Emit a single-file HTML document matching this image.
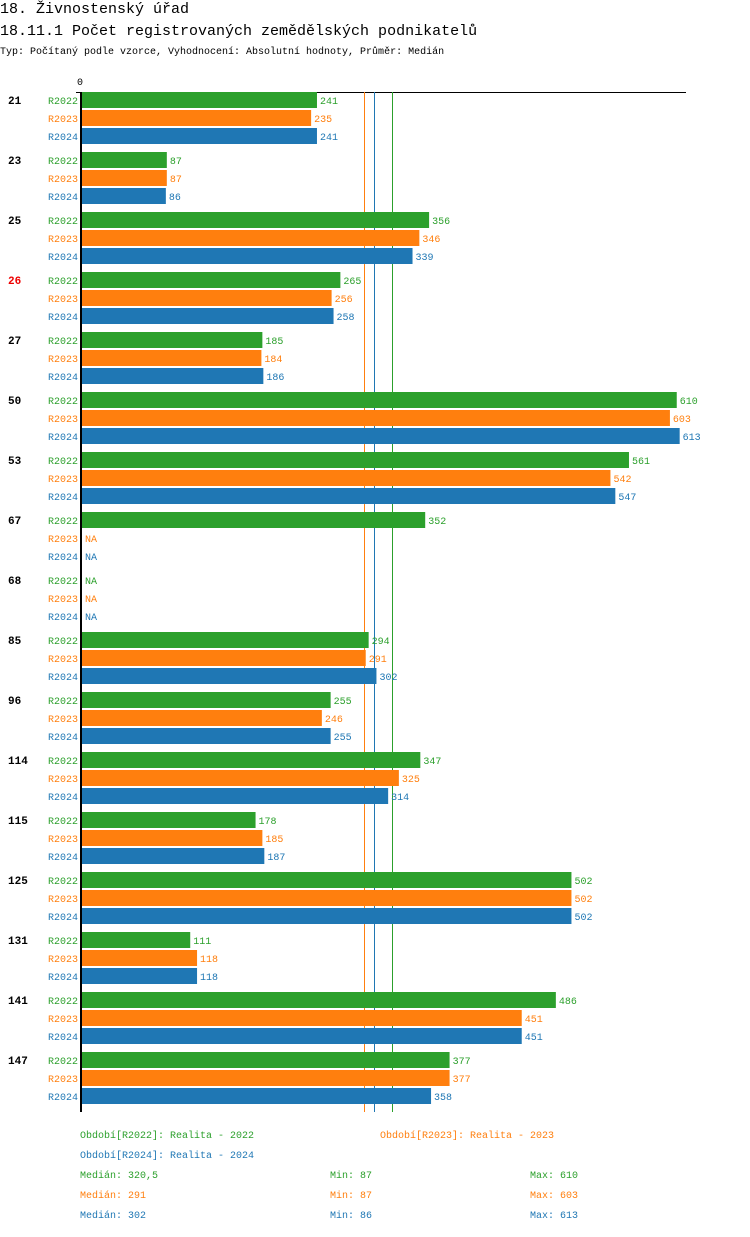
<!DOCTYPE html>
<html><head><meta charset="utf-8"><style>
body{margin:0;background:#fff;width:750px;height:1232px;overflow:hidden;font-family:"Liberation Mono","DejaVu Sans Mono",monospace}
svg text{font-family:"Liberation Mono","DejaVu Sans Mono",monospace}
</style></head><body>
<svg id="c" width="750" height="1232" xmlns="http://www.w3.org/2000/svg">
<text x="0" y="13" font-size="15">18. Živnostenský úřad</text>
<text x="0" y="35" font-size="15">18.11.1 Počet registrovaných zemědělských podnikatelů</text>
<text x="0" y="54" font-size="10">Typ: Počítaný podle vzorce, Vyhodnocení: Absolutní hodnoty, Průměr: Medián</text>
<text x="77" y="85" font-size="10">0</text>
<line x1="76" y1="92.5" x2="686" y2="92.5" stroke="#000"/>
<g id="medians"></g>
<g id="marks"></g>
<line x1="81" y1="92" x2="81" y2="1112" stroke="#000" stroke-width="2"/>
<g font-size="10">
<text x="80" y="1138" fill="#2ca02c">Období[R2022]: Realita - 2022</text>
<text x="380" y="1138" fill="#ff7f0e">Období[R2023]: Realita - 2023</text>
<text x="80" y="1158" fill="#1f77b4">Období[R2024]: Realita - 2024</text>
<text x="80" y="1178" fill="#2ca02c">Medián: 320,5</text>
<text x="330" y="1178" fill="#2ca02c">Min: 87</text>
<text x="530" y="1178" fill="#2ca02c">Max: 610</text>
<text x="80" y="1198" fill="#ff7f0e">Medián: 291</text>
<text x="330" y="1198" fill="#ff7f0e">Min: 87</text>
<text x="530" y="1198" fill="#ff7f0e">Max: 603</text>
<text x="80" y="1218" fill="#1f77b4">Medián: 302</text>
<text x="330" y="1218" fill="#1f77b4">Min: 86</text>
<text x="530" y="1218" fill="#1f77b4">Max: 613</text>
</g>
</svg>
<script>
const categories=["21","23","25","26","27","50","53","67","68","85","96","114","115","125","131","141","147"];
const seriesNames=["R2022","R2023","R2024"];
const r2022=[241,87,356,265,185,610,561,352,null,294,255,347,178,502,111,486,377];
const r2023=[235,87,346,256,184,603,542,null,null,291,246,325,185,502,118,451,377];
const r2024=[241,86,339,258,186,613,547,null,null,302,255,314,187,502,118,451,358];
const medians=[320.5,291,302];
const colors=["#2ca02c","#ff7f0e","#1f77b4"];
const series=[r2022,r2023,r2024];
const NS="http://www.w3.org/2000/svg";
const g=document.getElementById('marks');
const gm=document.getElementById('medians');
const xs=v=>82+v*0.975;
const ys=(ci,si)=>92+ci*60+si*18;
function mk(t,a,p){const e=document.createElementNS(NS,t);for(const k in a)e.setAttribute(k,a[k]);(p||g).appendChild(e);return e;}
medians.forEach((m,i)=>{
  const l=mk('line',{x1:Math.round(xs(m))-1.5,x2:Math.round(xs(m))-1.5,y1:92,y2:1112,stroke:colors[i],'stroke-width':1},gm);
  
  
});
categories.forEach((c,ci)=>{
  const t=mk('text',{x:8,y:ys(ci,0)+12,'font-size':11,'font-weight':'bold',fill:c==="26"?"#e00":"#000"});
  t.textContent=c;
  
  
  series.forEach((s,si)=>{
    const y=ys(ci,si);
    const l=mk('text',{x:78,y:y+12,'font-size':10,'text-anchor':'end',fill:colors[si]});
    l.textContent=seriesNames[si];
    
    
    const v=s[ci];
    if(v!=null){
      const r=mk('rect',{x:82,y:y,width:xs(v)-82,height:16,fill:colors[si]});
      
      
    }
    const vt=mk('text',{x:(v!=null?xs(v):82)+3,y:y+12,'font-size':10,fill:colors[si]});
    vt.textContent=v!=null?v:"NA";
    
    
  });
});
</script>
</body></html>
